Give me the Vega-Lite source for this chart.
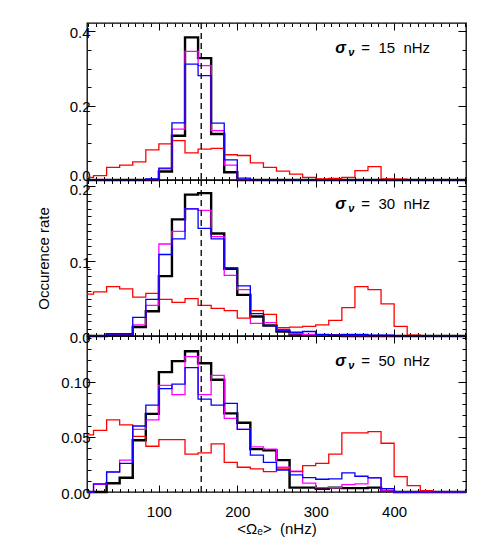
{
  "$schema": "https://vega.github.io/schema/vega-lite/v6.json",
  "padding": {"left": 35, "top": 21, "right": 5, "bottom": 5},
  "bounds": "flush",
  "spacing": 0,
  "config": {
    "font": "Liberation Sans",
    "view": {"stroke": "black", "strokeWidth": 1.3},
    "axis": {"grid": false, "domain": false, "tickColor": "black", "tickWidth": 1, "labelColor": "black", "labelFont": "Liberation Sans", "labelFontSize": 15, "titleFont": "Liberation Sans", "titleFontSize": 15, "titleFontWeight": "normal", "titleColor": "black", "labelOverlap": false, "labelFlush": false}
  },
  "datasets": {
    "hist": [
      {"p":1,"x":8.333,"black":0,"magenta":0,"blue":0,"red":0.007},
      {"p":1,"x":25,"black":0,"magenta":0,"blue":0,"red":0.012},
      {"p":1,"x":41.667,"black":0,"magenta":0,"blue":0,"red":0.034},
      {"p":1,"x":58.333,"black":0,"magenta":0,"blue":0,"red":0.040},
      {"p":1,"x":75,"black":0,"magenta":0,"blue":0,"red":0.049},
      {"p":1,"x":91.667,"black":0,"magenta":0,"blue":0.003,"red":0.081},
      {"p":1,"x":108.333,"black":0.023,"magenta":0.030,"blue":0.032,"red":0.097},
      {"p":1,"x":125,"black":0.119,"magenta":0.137,"blue":0.154,"red":0.106},
      {"p":1,"x":141.667,"black":0.384,"magenta":0.346,"blue":0.312,"red":0.073},
      {"p":1,"x":158.333,"black":0.328,"magenta":0.308,"blue":0.281,"red":0.083},
      {"p":1,"x":175,"black":0.124,"magenta":0.133,"blue":0.153,"red":0.085},
      {"p":1,"x":191.667,"black":0.021,"magenta":0.040,"blue":0.054,"red":0.068},
      {"p":1,"x":208.333,"black":0,"magenta":0,"blue":0.005,"red":0.066},
      {"p":1,"x":225,"black":0,"magenta":0,"blue":0,"red":0.046},
      {"p":1,"x":241.667,"black":0,"magenta":0,"blue":0,"red":0.034},
      {"p":1,"x":258.333,"black":0,"magenta":0,"blue":0,"red":0.024},
      {"p":1,"x":275,"black":0,"magenta":0,"blue":0,"red":0.016},
      {"p":1,"x":291.667,"black":0,"magenta":0,"blue":0,"red":0.007},
      {"p":1,"x":308.333,"black":0,"magenta":0,"blue":0,"red":0.003},
      {"p":1,"x":325,"black":0,"magenta":0,"blue":0,"red":0.004},
      {"p":1,"x":341.667,"black":0,"magenta":0,"blue":0,"red":0.007},
      {"p":1,"x":358.333,"black":0,"magenta":0,"blue":0,"red":0.025},
      {"p":1,"x":375,"black":0,"magenta":0,"blue":0,"red":0.036},
      {"p":1,"x":391.667,"black":0,"magenta":0,"blue":0,"red":0.003},
      {"p":1,"x":408.333,"black":0,"magenta":0,"blue":0,"red":0.002},
      {"p":1,"x":425,"black":0,"magenta":0,"blue":0,"red":0.001},
      {"p":1,"x":441.667,"black":0,"magenta":0,"blue":0,"red":0.001},
      {"p":1,"x":458.333,"black":0,"magenta":0,"blue":0,"red":0},
      {"p":1,"x":475,"black":0,"magenta":0,"blue":0,"red":0},
      {"p":1,"x":491.667,"black":0,"magenta":0,"blue":0,"red":0},
      {"p":2,"x":8.333,"black":0,"magenta":0,"blue":0,"red":0.056},
      {"p":2,"x":25,"black":0,"magenta":0,"blue":0,"red":0.059},
      {"p":2,"x":41.667,"black":0.002,"magenta":0.003,"blue":0.003,"red":0.066},
      {"p":2,"x":58.333,"black":0.002,"magenta":0.003,"blue":0.003,"red":0.063},
      {"p":2,"x":75,"black":0.012,"magenta":0.015,"blue":0.025,"red":0.052},
      {"p":2,"x":91.667,"black":0.033,"magenta":0.041,"blue":0.049,"red":0.057},
      {"p":2,"x":108.333,"black":0.080,"magenta":0.123,"blue":0.109,"red":0.049},
      {"p":2,"x":125,"black":0.156,"magenta":0.140,"blue":0.130,"red":0.045},
      {"p":2,"x":141.667,"black":0.189,"magenta":0.170,"blue":0.170,"red":0.050},
      {"p":2,"x":158.333,"black":0.191,"magenta":0.168,"blue":0.144,"red":0.041},
      {"p":2,"x":175,"black":0.137,"magenta":0.133,"blue":0.130,"red":0.037},
      {"p":2,"x":191.667,"black":0.090,"magenta":0.081,"blue":0.091,"red":0.034},
      {"p":2,"x":208.333,"black":0.055,"magenta":0.062,"blue":0.067,"red":0.024},
      {"p":2,"x":225,"black":0.026,"magenta":0.017,"blue":0.030,"red":0.034},
      {"p":2,"x":241.667,"black":0.014,"magenta":0.018,"blue":0.014,"red":0.029},
      {"p":2,"x":258.333,"black":0.006,"magenta":0.008,"blue":0.008,"red":0.011},
      {"p":2,"x":275,"black":0.002,"magenta":0.003,"blue":0.005,"red":0.012},
      {"p":2,"x":291.667,"black":0.001,"magenta":0.002,"blue":0.006,"red":0.013},
      {"p":2,"x":308.333,"black":0.001,"magenta":0.001,"blue":0.002,"red":0.015},
      {"p":2,"x":325,"black":0.001,"magenta":0.001,"blue":0.001,"red":0.021},
      {"p":2,"x":341.667,"black":0,"magenta":0,"blue":0.002,"red":0.038},
      {"p":2,"x":358.333,"black":0,"magenta":0,"blue":0.002,"red":0.066},
      {"p":2,"x":375,"black":0,"magenta":0,"blue":0.001,"red":0.062},
      {"p":2,"x":391.667,"black":0,"magenta":0,"blue":0.001,"red":0.043},
      {"p":2,"x":408.333,"black":0,"magenta":0,"blue":0,"red":0.013},
      {"p":2,"x":425,"black":0,"magenta":0,"blue":0,"red":0.001},
      {"p":2,"x":441.667,"black":0,"magenta":0,"blue":0,"red":0},
      {"p":2,"x":458.333,"black":0,"magenta":0,"blue":0,"red":0},
      {"p":2,"x":475,"black":0,"magenta":0,"blue":0,"red":0},
      {"p":2,"x":491.667,"black":0,"magenta":0,"blue":0,"red":0},
      {"p":3,"x":8.333,"black":0,"magenta":0,"blue":0,"red":0.052},
      {"p":3,"x":25,"black":0,"magenta":0.007,"blue":0.0073,"red":0.056},
      {"p":3,"x":41.667,"black":0.008,"magenta":0.0185,"blue":0.018,"red":0.0655},
      {"p":3,"x":58.333,"black":0.013,"magenta":0.029,"blue":0.026,"red":0.061},
      {"p":3,"x":75,"black":0.047,"magenta":0.057,"blue":0.060,"red":0.0506},
      {"p":3,"x":91.667,"black":0.071,"magenta":0.0655,"blue":0.079,"red":0.0416},
      {"p":3,"x":108.333,"black":0.109,"magenta":0.097,"blue":0.094,"red":0.0476},
      {"p":3,"x":125,"black":0.119,"magenta":0.0885,"blue":0.098,"red":0.0476},
      {"p":3,"x":141.667,"black":0.128,"magenta":0.123,"blue":0.113,"red":0.0345},
      {"p":3,"x":158.333,"black":0.117,"magenta":0.0885,"blue":0.0845,"red":0.0355},
      {"p":3,"x":175,"black":0.102,"magenta":0.106,"blue":0.079,"red":0.0437},
      {"p":3,"x":191.667,"black":0.0715,"magenta":0.067,"blue":0.0806,"red":0.027},
      {"p":3,"x":208.333,"black":0.063,"magenta":0.057,"blue":0.057,"red":0.0225},
      {"p":3,"x":225,"black":0.039,"magenta":0.041,"blue":0.0336,"red":0.021},
      {"p":3,"x":241.667,"black":0.038,"magenta":0.039,"blue":0.027,"red":0.0185},
      {"p":3,"x":258.333,"black":0.029,"magenta":0.0225,"blue":0.020,"red":0.021},
      {"p":3,"x":275,"black":0.004,"magenta":0.019,"blue":0.0155,"red":0.0185},
      {"p":3,"x":291.667,"black":0.004,"magenta":0.008,"blue":0.013,"red":0.024},
      {"p":3,"x":308.333,"black":0.003,"magenta":0.004,"blue":0.0116,"red":0.026},
      {"p":3,"x":325,"black":0.004,"magenta":0.004,"blue":0.012,"red":0.0345},
      {"p":3,"x":341.667,"black":0.0035,"magenta":0.0067,"blue":0.0173,"red":0.0537},
      {"p":3,"x":358.333,"black":0.0035,"magenta":0.0073,"blue":0.0143,"red":0.0537},
      {"p":3,"x":375,"black":0.004,"magenta":0.013,"blue":0.0128,"red":0.0549},
      {"p":3,"x":391.667,"black":0.001,"magenta":0.001,"blue":0.003,"red":0.0443},
      {"p":3,"x":408.333,"black":0,"magenta":0,"blue":0,"red":0.014},
      {"p":3,"x":425,"black":0,"magenta":0,"blue":0,"red":0.0058},
      {"p":3,"x":441.667,"black":0,"magenta":0,"blue":0,"red":0.0013},
      {"p":3,"x":458.333,"black":0,"magenta":0,"blue":0,"red":0},
      {"p":3,"x":475,"black":0,"magenta":0,"blue":0,"red":0},
      {"p":3,"x":491.667,"black":0,"magenta":0,"blue":0,"red":0}
    ]
  },
  "vconcat": [
    {
      "width": 379, "height": 157,
      "resolve": {"axis": {"x": "independent", "y": "independent"}},
      "layer": [
        {
          "data": {"name": "hist"},
          "transform": [{"filter": "datum.p == 1"}, {"fold": ["black", "magenta", "red", "blue"], "as": ["series", "rate"]}],
          "mark": {"type": "line", "interpolate": "step", "strokeJoin": "miter"},
          "encoding": {
            "x": {"field": "x", "type": "quantitative", "scale": {"domain": [8.333, 491.667], "nice": false, "zero": false}, "axis": {"orient": "bottom", "values": [100, 200, 300, 400], "labels": false, "title": null, "tickSize": -7}},
            "y": {"field": "rate", "type": "quantitative", "scale": {"domain": [0, 0.4226], "nice": false, "zero": false}, "axis": {"orient": "left", "values": [0, 0.2, 0.4], "format": ".1f", "tickSize": -8, "labelPadding": 5, "labelOffset": {"condition": {"test": "datum.value == 0", "value": -5}, "value": 1}, "title": null}},
            "color": {"field": "series", "type": "nominal", "scale": {"domain": ["black", "magenta", "red", "blue"], "range": ["#000000", "#ff00ff", "#ff0000", "#0000ff"]}, "legend": null},
            "strokeWidth": {"field": "series", "type": "nominal", "scale": {"type": "ordinal", "domain": ["black", "magenta", "red", "blue"], "range": [2.4, 1.3, 1.3, 1.3]}, "legend": null}
          }
        },
        {
          "data": {"name": "hist"},
          "transform": [{"filter": "datum.p == 1"}, {"fold": ["black"], "as": ["series", "rate"]}],
          "mark": {"type": "point", "opacity": 0},
          "encoding": {
            "x": {"field": "x", "type": "quantitative", "axis": {"orient": "bottom", "values": [10,20,30,40,50,60,70,80,90,110,120,130,140,150,160,170,180,190,210,220,230,240,250,260,270,280,290,310,320,330,340,350,360,370,380,390,410,420,430,440,450,460,470,480,490], "labels": false, "title": null, "tickSize": -3.5}},
            "y": {"field": "rate", "type": "quantitative", "axis": {"orient": "left", "values": [0.05, 0.1, 0.15, 0.25, 0.3, 0.35], "labels": false, "title": null, "tickSize": -4}}
          }
        },
        {
          "data": {"name": "hist"},
          "transform": [{"filter": "datum.p == 1"}, {"fold": ["black"], "as": ["series", "rate"]}],
          "mark": {"type": "point", "opacity": 0},
          "encoding": {
            "x": {"field": "x", "type": "quantitative", "axis": {"orient": "top", "values": [100, 200, 300, 400], "labels": false, "title": null, "tickSize": -7}},
            "y": {"field": "rate", "type": "quantitative", "axis": {"orient": "right", "values": [0, 0.2, 0.4], "labels": false, "title": null, "tickSize": -8}}
          }
        },
        {
          "data": {"name": "hist"},
          "transform": [{"filter": "datum.p == 1"}, {"fold": ["black"], "as": ["series", "rate"]}],
          "mark": {"type": "point", "opacity": 0},
          "encoding": {
            "x": {"field": "x", "type": "quantitative", "axis": {"orient": "top", "values": [10,20,30,40,50,60,70,80,90,110,120,130,140,150,160,170,180,190,210,220,230,240,250,260,270,280,290,310,320,330,340,350,360,370,380,390,410,420,430,440,450,460,470,480,490], "labels": false, "title": null, "tickSize": -3.5}},
            "y": {"field": "rate", "type": "quantitative", "axis": {"orient": "right", "values": [0.05, 0.1, 0.15, 0.25, 0.3, 0.35], "labels": false, "title": null, "tickSize": -4}}
          }
        },
        {
          "data": {"values": [{}]},
          "mark": {"type": "rule", "color": "black", "strokeWidth": 1.3, "strokeDash": [6, 4]},
          "encoding": {"x": {"datum": 154, "type": "quantitative", "axis": null}}
        },
        {
          "data": {"values": [{}]},
          "mark": {"type": "text", "text": "σ", "fontSize": 16, "fontStyle": "italic", "fontWeight": "bold", "align": "left", "baseline": "alphabetic", "color": "black"},
          "encoding": {"x": {"datum": 325, "type": "quantitative", "axis": null}, "y": {"datum": 0.343, "type": "quantitative", "axis": null}}
        },
        {
          "data": {"values": [{}]},
          "mark": {"type": "text", "text": "ν", "fontSize": 11, "fontStyle": "italic", "fontWeight": "bold", "align": "left", "baseline": "alphabetic", "dx": 13, "dy": 3, "color": "black"},
          "encoding": {"x": {"datum": 325, "type": "quantitative", "axis": null}, "y": {"datum": 0.343, "type": "quantitative", "axis": null}}
        },
        {
          "data": {"values": [{}]},
          "mark": {"type": "text", "text": "=\u00a0\u00a015\u00a0\u00a0nHz", "fontSize": 15, "align": "left", "baseline": "alphabetic", "dx": 26, "color": "black"},
          "encoding": {"x": {"datum": 325, "type": "quantitative", "axis": null}, "y": {"datum": 0.343, "type": "quantitative", "axis": null}}
        }
      ]
    },
    {
      "width": 379, "height": 156,
      "resolve": {"axis": {"x": "independent", "y": "independent"}},
      "layer": [
        {
          "data": {"name": "hist"},
          "transform": [{"filter": "datum.p == 2"}, {"fold": ["black", "magenta", "red", "blue"], "as": ["series", "rate"]}],
          "mark": {"type": "line", "interpolate": "step", "strokeJoin": "miter"},
          "encoding": {
            "x": {"field": "x", "type": "quantitative", "scale": {"domain": [8.333, 491.667], "nice": false, "zero": false}, "axis": {"orient": "bottom", "values": [100, 200, 300, 400], "labels": false, "title": null, "tickSize": -7}},
            "y": {"field": "rate", "type": "quantitative", "scale": {"domain": [0, 0.2086], "nice": false, "zero": false}, "axis": {"orient": "left", "values": [0, 0.1, 0.2], "format": ".1f", "tickSize": -8, "labelPadding": 5, "labelOffset": {"condition": {"test": "datum.value == 0.2", "value": 3}, "value": 1}, "title": "Occurence rate", "titleX": -39, "titleY": 78, "titleAngle": -90, "titleAlign": "center", "titleBaseline": "alphabetic"}},
            "color": {"field": "series", "type": "nominal", "scale": {"domain": ["black", "magenta", "red", "blue"], "range": ["#000000", "#ff00ff", "#ff0000", "#0000ff"]}, "legend": null},
            "strokeWidth": {"field": "series", "type": "nominal", "scale": {"type": "ordinal", "domain": ["black", "magenta", "red", "blue"], "range": [2.4, 1.3, 1.3, 1.3]}, "legend": null}
          }
        },
        {
          "data": {"name": "hist"},
          "transform": [{"filter": "datum.p == 2"}, {"fold": ["black"], "as": ["series", "rate"]}],
          "mark": {"type": "point", "opacity": 0},
          "encoding": {
            "x": {"field": "x", "type": "quantitative", "axis": {"orient": "bottom", "values": [10,20,30,40,50,60,70,80,90,110,120,130,140,150,160,170,180,190,210,220,230,240,250,260,270,280,290,310,320,330,340,350,360,370,380,390,410,420,430,440,450,460,470,480,490], "labels": false, "title": null, "tickSize": -3.5}},
            "y": {"field": "rate", "type": "quantitative", "axis": {"orient": "left", "values": [0.01,0.02,0.03,0.04,0.05,0.06,0.07,0.08,0.09,0.11,0.12,0.13,0.14,0.15,0.16,0.17,0.18,0.19], "labels": false, "title": null, "tickSize": -4}}
          }
        },
        {
          "data": {"name": "hist"},
          "transform": [{"filter": "datum.p == 2"}, {"fold": ["black"], "as": ["series", "rate"]}],
          "mark": {"type": "point", "opacity": 0},
          "encoding": {
            "x": {"field": "x", "type": "quantitative", "axis": {"orient": "top", "values": [100, 200, 300, 400], "labels": false, "title": null, "tickSize": -7}},
            "y": {"field": "rate", "type": "quantitative", "axis": {"orient": "right", "values": [0, 0.1, 0.2], "labels": false, "title": null, "tickSize": -8}}
          }
        },
        {
          "data": {"name": "hist"},
          "transform": [{"filter": "datum.p == 2"}, {"fold": ["black"], "as": ["series", "rate"]}],
          "mark": {"type": "point", "opacity": 0},
          "encoding": {
            "x": {"field": "x", "type": "quantitative", "axis": {"orient": "top", "values": [10,20,30,40,50,60,70,80,90,110,120,130,140,150,160,170,180,190,210,220,230,240,250,260,270,280,290,310,320,330,340,350,360,370,380,390,410,420,430,440,450,460,470,480,490], "labels": false, "title": null, "tickSize": -3.5}},
            "y": {"field": "rate", "type": "quantitative", "axis": {"orient": "right", "values": [0.01,0.02,0.03,0.04,0.05,0.06,0.07,0.08,0.09,0.11,0.12,0.13,0.14,0.15,0.16,0.17,0.18,0.19], "labels": false, "title": null, "tickSize": -4}}
          }
        },
        {
          "data": {"values": [{}]},
          "mark": {"type": "rule", "color": "black", "strokeWidth": 1.3, "strokeDash": [6, 4]},
          "encoding": {"x": {"datum": 154, "type": "quantitative", "axis": null}}
        },
        {
          "data": {"values": [{}]},
          "mark": {"type": "text", "text": "σ", "fontSize": 16, "fontStyle": "italic", "fontWeight": "bold", "align": "left", "baseline": "alphabetic", "color": "black"},
          "encoding": {"x": {"datum": 325, "type": "quantitative", "axis": null}, "y": {"datum": 0.1696, "type": "quantitative", "axis": null}}
        },
        {
          "data": {"values": [{}]},
          "mark": {"type": "text", "text": "ν", "fontSize": 11, "fontStyle": "italic", "fontWeight": "bold", "align": "left", "baseline": "alphabetic", "dx": 13, "dy": 3, "color": "black"},
          "encoding": {"x": {"datum": 325, "type": "quantitative", "axis": null}, "y": {"datum": 0.1696, "type": "quantitative", "axis": null}}
        },
        {
          "data": {"values": [{}]},
          "mark": {"type": "text", "text": "=\u00a0\u00a030\u00a0\u00a0nHz", "fontSize": 15, "align": "left", "baseline": "alphabetic", "dx": 26, "color": "black"},
          "encoding": {"x": {"datum": 325, "type": "quantitative", "axis": null}, "y": {"datum": 0.1696, "type": "quantitative", "axis": null}}
        }
      ]
    },
    {
      "width": 379, "height": 156,
      "resolve": {"axis": {"x": "independent", "y": "independent"}},
      "layer": [
        {
          "data": {"name": "hist"},
          "transform": [{"filter": "datum.p == 3"}, {"fold": ["black", "magenta", "red", "blue"], "as": ["series", "rate"]}],
          "mark": {"type": "line", "interpolate": "step", "strokeJoin": "miter"},
          "encoding": {
            "x": {"field": "x", "type": "quantitative", "scale": {"domain": [8.333, 491.667], "nice": false, "zero": false}, "axis": {"orient": "bottom", "values": [100, 200, 300, 400], "labels": true, "title": "<Ωₑ>\u00a0\u00a0(nHz)", "tickSize": -7, "labelPadding": 19, "titleY": 41, "titleBaseline": "alphabetic"}},
            "y": {"field": "rate", "type": "quantitative", "scale": {"domain": [0, 0.1418], "nice": false, "zero": false}, "axis": {"orient": "left", "values": [0, 0.05, 0.1], "format": ".2f", "tickSize": -8, "labelPadding": 5, "labelOffset": 1, "title": null}},
            "color": {"field": "series", "type": "nominal", "scale": {"domain": ["black", "magenta", "red", "blue"], "range": ["#000000", "#ff00ff", "#ff0000", "#0000ff"]}, "legend": null},
            "strokeWidth": {"field": "series", "type": "nominal", "scale": {"type": "ordinal", "domain": ["black", "magenta", "red", "blue"], "range": [2.4, 1.3, 1.3, 1.3]}, "legend": null}
          }
        },
        {
          "data": {"name": "hist"},
          "transform": [{"filter": "datum.p == 3"}, {"fold": ["black"], "as": ["series", "rate"]}],
          "mark": {"type": "point", "opacity": 0},
          "encoding": {
            "x": {"field": "x", "type": "quantitative", "axis": {"orient": "bottom", "values": [10,20,30,40,50,60,70,80,90,110,120,130,140,150,160,170,180,190,210,220,230,240,250,260,270,280,290,310,320,330,340,350,360,370,380,390,410,420,430,440,450,460,470,480,490], "labels": false, "title": null, "tickSize": -3.5}},
            "y": {"field": "rate", "type": "quantitative", "axis": {"orient": "left", "values": [0.01,0.02,0.03,0.04,0.06,0.07,0.08,0.09,0.11,0.12,0.13,0.14], "labels": false, "title": null, "tickSize": -4}}
          }
        },
        {
          "data": {"name": "hist"},
          "transform": [{"filter": "datum.p == 3"}, {"fold": ["black"], "as": ["series", "rate"]}],
          "mark": {"type": "point", "opacity": 0},
          "encoding": {
            "x": {"field": "x", "type": "quantitative", "axis": {"orient": "top", "values": [100, 200, 300, 400], "labels": false, "title": null, "tickSize": -7}},
            "y": {"field": "rate", "type": "quantitative", "axis": {"orient": "right", "values": [0, 0.05, 0.1], "labels": false, "title": null, "tickSize": -8}}
          }
        },
        {
          "data": {"name": "hist"},
          "transform": [{"filter": "datum.p == 3"}, {"fold": ["black"], "as": ["series", "rate"]}],
          "mark": {"type": "point", "opacity": 0},
          "encoding": {
            "x": {"field": "x", "type": "quantitative", "axis": {"orient": "top", "values": [10,20,30,40,50,60,70,80,90,110,120,130,140,150,160,170,180,190,210,220,230,240,250,260,270,280,290,310,320,330,340,350,360,370,380,390,410,420,430,440,450,460,470,480,490], "labels": false, "title": null, "tickSize": -3.5}},
            "y": {"field": "rate", "type": "quantitative", "axis": {"orient": "right", "values": [0.01,0.02,0.03,0.04,0.06,0.07,0.08,0.09,0.11,0.12,0.13,0.14], "labels": false, "title": null, "tickSize": -4}}
          }
        },
        {
          "data": {"values": [{}]},
          "mark": {"type": "rule", "color": "black", "strokeWidth": 1.3, "strokeDash": [6, 4]},
          "encoding": {"x": {"datum": 154, "type": "quantitative", "axis": null}}
        },
        {
          "data": {"values": [{}]},
          "mark": {"type": "text", "text": "σ", "fontSize": 16, "fontStyle": "italic", "fontWeight": "bold", "align": "left", "baseline": "alphabetic", "color": "black"},
          "encoding": {"x": {"datum": 325, "type": "quantitative", "axis": null}, "y": {"datum": 0.1142, "type": "quantitative", "axis": null}}
        },
        {
          "data": {"values": [{}]},
          "mark": {"type": "text", "text": "ν", "fontSize": 11, "fontStyle": "italic", "fontWeight": "bold", "align": "left", "baseline": "alphabetic", "dx": 13, "dy": 3, "color": "black"},
          "encoding": {"x": {"datum": 325, "type": "quantitative", "axis": null}, "y": {"datum": 0.1142, "type": "quantitative", "axis": null}}
        },
        {
          "data": {"values": [{}]},
          "mark": {"type": "text", "text": "=\u00a0\u00a050\u00a0\u00a0nHz", "fontSize": 15, "align": "left", "baseline": "alphabetic", "dx": 26, "color": "black"},
          "encoding": {"x": {"datum": 325, "type": "quantitative", "axis": null}, "y": {"datum": 0.1142, "type": "quantitative", "axis": null}}
        }
      ]
    }
  ]
}
